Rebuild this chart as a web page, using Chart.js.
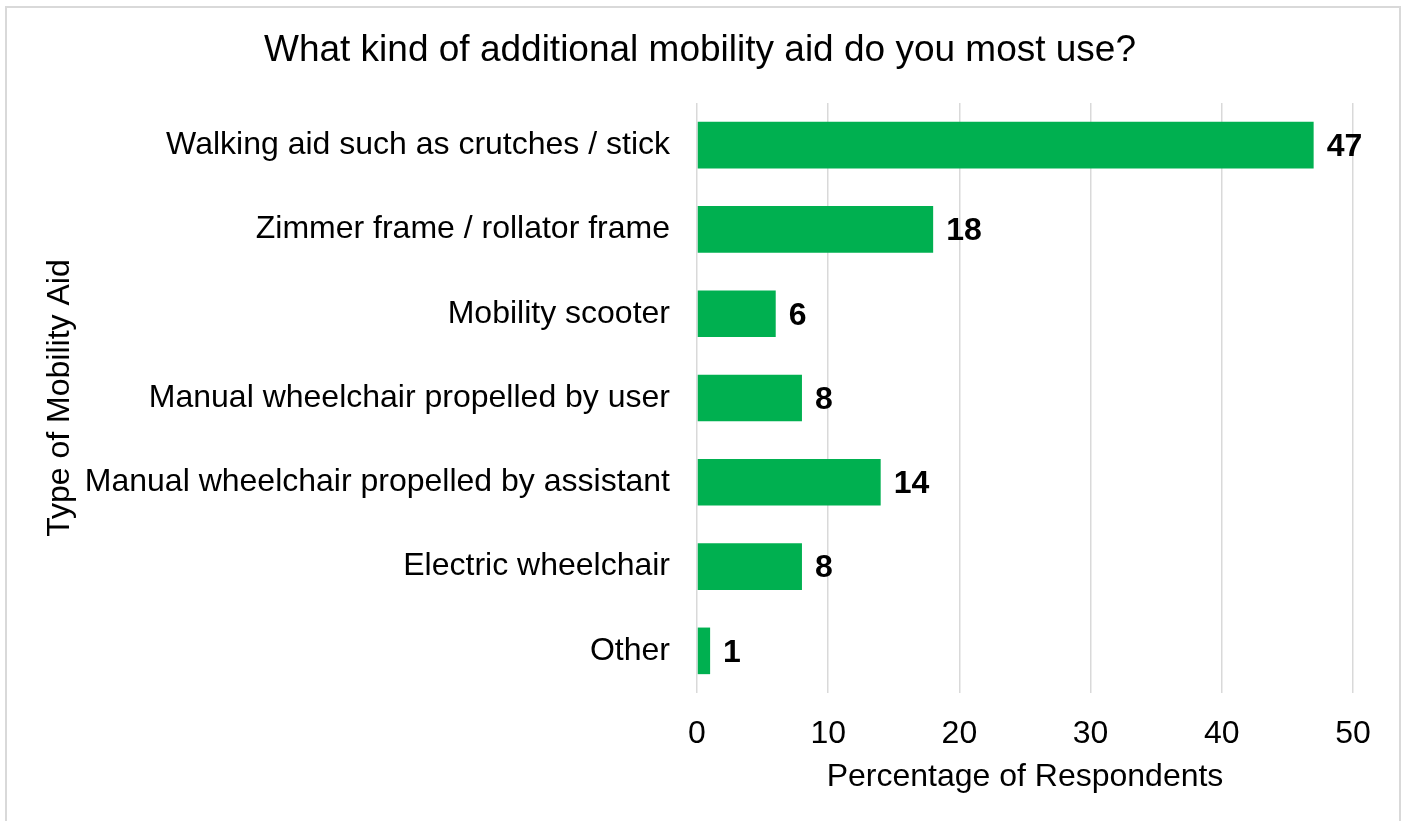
<!DOCTYPE html>
<html>
<head>
<meta charset="utf-8">
<title>Mobility aid survey</title>
<script src="https://cdn.jsdelivr.net/npm/chart.js@4.4.1/dist/chart.umd.min.js"></script>
<style>
  html, body { margin: 0; padding: 0; background: #fff; overflow: hidden; }
  #wrap { position: absolute; left: 0; top: 0; width: 1407px; height: 821px; }
  #frame {
    position: absolute; left: 5px; top: 6px; width: 1392px; height: 900px;
    border: 2px solid #d9d9d9; pointer-events: none;
  }
</style>
</head>
<body>
<div id="wrap"><canvas id="chart-aids"></canvas></div>
<div id="frame"></div>
<script>
// ── Data ──────────────────────────────────────────────
const aidTypes = [
  'Walking aid such as crutches / stick',
  'Zimmer frame / rollator frame',
  'Mobility scooter',
  'Manual wheelchair propelled by user',
  'Manual wheelchair propelled by assistant',
  'Electric wheelchair',
  'Other',
];
const respondentPct = [47, 18, 6, 8, 14, 8, 1];
const pctAxis = { min: 0, max: 50, step: 10 };

const FONT = "'Liberation Sans', Arial, sans-serif";
const GREEN = '#00b050';
const GRID = '#d9d9d9';

// ── Value labels at bar ends ──────────────────────────
const barValueLabels = {
  id: 'barValueLabels',
  afterDatasetsDraw(chart) {
    const { ctx } = chart;
    const meta = chart.getDatasetMeta(0);
    ctx.save();
    ctx.font = `bold 32px ${FONT}`;
    ctx.fillStyle = '#000';
    ctx.textAlign = 'left';
    ctx.textBaseline = 'middle';
    meta.data.forEach((bar, i) => {
      ctx.fillText(String(respondentPct[i]), bar.x + 13, bar.y + 2);
    });
    ctx.restore();
  },
};

new Chart(document.getElementById('chart-aids'), {
  type: 'bar',
  data: {
    labels: aidTypes,
    datasets: [{
      data: respondentPct,
      backgroundColor: GREEN,
      borderWidth: 0,
      categoryPercentage: 1,
      barPercentage: 0.553,
    }],
  },
  options: {
    indexAxis: 'y',
    responsive: true,
    maintainAspectRatio: false,
    animation: false,
    layout: { padding: { left: 47, right: 54, top: 0, bottom: 0 } },
    plugins: {
      legend: { display: false },
      tooltip: { enabled: false },
      title: {
        display: true,
        text: 'What kind of additional mobility aid do you most use?',
        color: '#000',
        font: { family: FONT, size: 37, weight: 'normal' },
        padding: { top: 29, bottom: 29.6 },
      },
    },
    scales: {
      x: {
        min: pctAxis.min,
        max: pctAxis.max,
        afterFit: s => { s.height = 128; },
        grid: { color: GRID, lineWidth: 1.5, drawTicks: false },
        border: { display: false },
        ticks: {
          stepSize: pctAxis.step,
          color: '#000',
          padding: 22,
          font: { family: FONT, size: 32 },
        },
        title: {
          display: true,
          text: 'Percentage of Respondents',
          color: '#000',
          font: { family: FONT, size: 32 },
          padding: { top: 0, bottom: 25 },
        },
      },
      y: {
        afterFit: s => { s.width = 650; },
        grid: { display: false, drawTicks: false },
        border: { display: false },
        ticks: {
          color: '#000',
          padding: 27,
          font: { family: FONT, size: 32 },
        },
        title: {
          display: true,
          text: 'Type of Mobility Aid',
          color: '#000',
          font: { family: FONT, size: 32 },
          padding: { top: -6, bottom: 0 },
        },
      },
    },
  },
  plugins: [barValueLabels],
});
</script>
</body>
</html>
